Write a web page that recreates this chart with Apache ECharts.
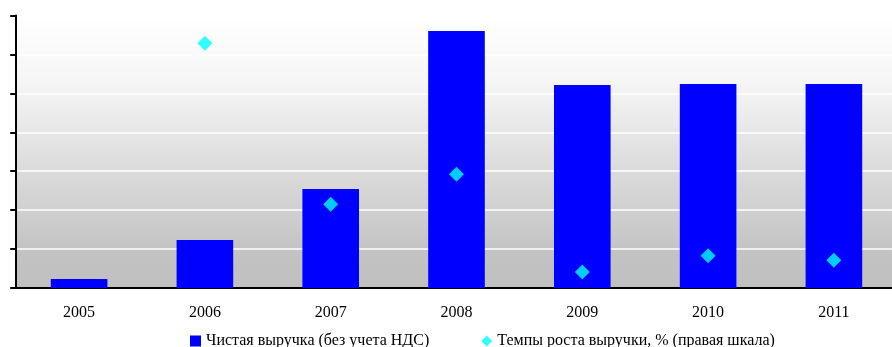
<!DOCTYPE html>
<html><head><meta charset="utf-8">
<script src="https://cdn.jsdelivr.net/npm/echarts@6/dist/echarts.min.js"></script>
<style>html,body{margin:0;padding:0;background:#fff;}#c{width:892px;height:347px;}</style>
</head><body><div id="c"></div>
<script>
var categories = ['2005','2006','2007','2008','2009','2010','2011'];
var revenue = [231, 1233, 2543, 6602, 5215, 5241, 5241];
var growth = [null, 629, 215, 292, 41, 83, 71];
var leftTicks = {min: 0, max: 7000, interval: 1000};
var rightTicks = {min: 0, max: 700, interval: 100};
var seriesNames = ['Чистая выручка (без учета НДС)', 'Темпы роста выручки, % (правая шкала)'];

var font = 'Liberation Serif';
var chart = echarts.init(document.getElementById('c'), null, {renderer: 'canvas'});
chart.setOption({
  animation: false,
  backgroundColor: '#ffffff',
  textStyle: {fontFamily: font},
  grid: {
    left: 16.2, width: 880.6, top: 15.5, height: 272.5,
    outerBoundsMode: 'none', containLabel: false,
    show: true, borderWidth: 0,
    backgroundColor: {
      type: 'linear', x: 0, y: 0, x2: 0, y2: 1,
      colorStops: [
        {offset: 0, color: '#ffffff'},
        {offset: 0.25, color: '#f5f5f5'},
        {offset: 0.53, color: '#dedede'},
        {offset: 0.75, color: '#cdcdcd'},
        {offset: 0.86, color: '#c3c3c3'},
        {offset: 1, color: '#c0c0c0'}
      ]
    }
  },
  legend: {
    left: 190, top: 333, padding: 0,
    itemWidth: 11, itemHeight: 11, itemGap: 52,
    textStyle: {fontFamily: font, fontSize: 16, color: '#000'},
    data: [{name: seriesNames[0], icon: 'rect'}, {name: seriesNames[1], icon: 'diamond'}]
  },
  xAxis: {
    type: 'category', data: categories,
    axisLine: {lineStyle: {color: '#000', width: 2}},
    axisTick: {length: 6, lineStyle: {color: '#000', width: 2}},
    axisLabel: {fontFamily: font, fontSize: 16, color: '#000', margin: 17}
  },
  yAxis: [
    {type: 'value', min: leftTicks.min, max: leftTicks.max, interval: leftTicks.interval,
     axisLine: {show: true, lineStyle: {color: '#000', width: 2}},
     axisTick: {show: true, length: 6, lineStyle: {color: '#000', width: 2}},
     axisLabel: {show: false},
     splitLine: {lineStyle: {color: '#ffffff', width: 1.5}}},
    {type: 'value', min: rightTicks.min, max: rightTicks.max, interval: rightTicks.interval,
     show: false, splitLine: {show: false}}
  ],
  series: [
    {name: seriesNames[0], type: 'bar', data: revenue, yAxisIndex: 0, barWidth: '45%',
     itemStyle: {color: '#0000ff'}},
    {name: seriesNames[1], type: 'scatter', data: growth, yAxisIndex: 1, symbol: 'diamond',
     symbolSize: 15, itemStyle: {color: '#00ffff'}}
  ]
});
</script></body></html>
